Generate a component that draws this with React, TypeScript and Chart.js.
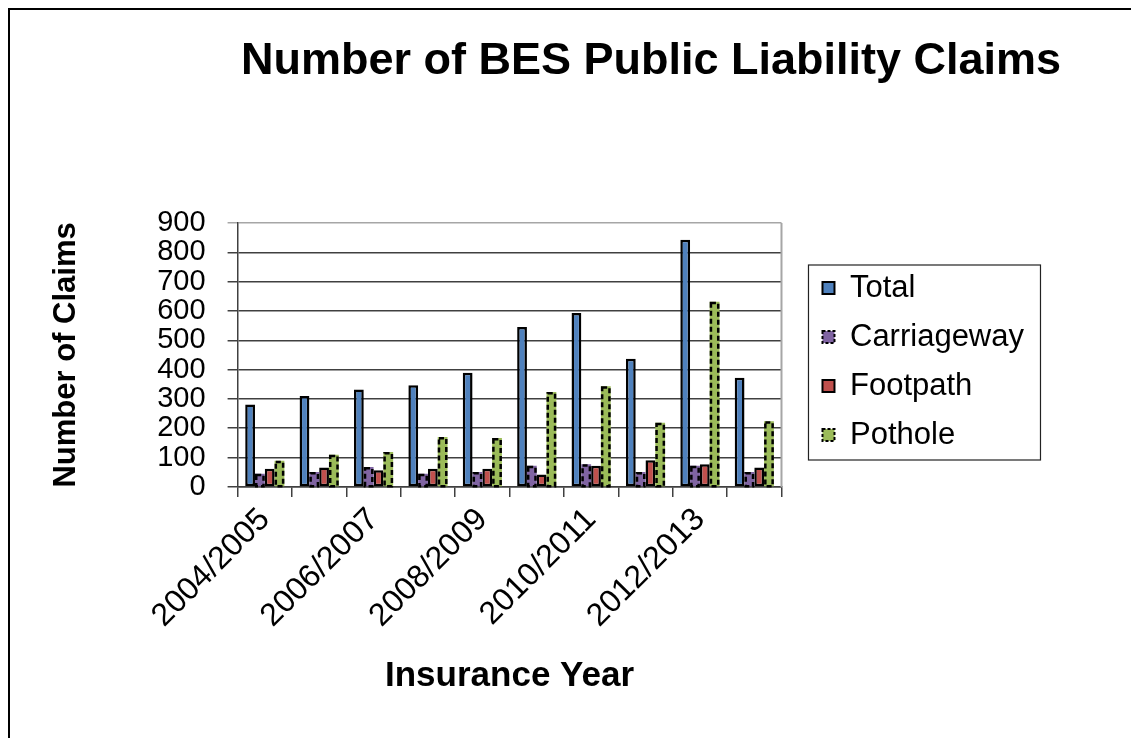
import React, { useEffect, useRef } from "react";
import { Chart, registerables } from "chart.js";

Chart.register(...registerables);

const categories = [
  "2004/2005", "2005/2006", "2006/2007", "2007/2008", "2008/2009",
  "2009/2010", "2010/2011", "2011/2012", "2012/2013", "2013/2014",
];
const totalClaims = [281, 310, 332, 347, 389, 545, 593, 437, 843, 372];
const carriagewayClaims = [45, 51, 68, 45, 51, 72, 77, 51, 72, 51];
const footpathClaims = [62, 66, 57, 62, 62, 42, 72, 91, 77, 66];
const potholeClaims = [89, 110, 119, 170, 167, 324, 343, 219, 631, 224];
const yTicks = [0, 100, 200, 300, 400, 500, 600, 700, 800, 900];

const FONT = "'Liberation Sans', Arial, Helvetica, sans-serif";
const LEGEND_FONT = 31;
const LEGEND_PAD = 18;

const layoutPlugin = {
  id: "layoutTweaks",
  afterLayout(chart: any) {
    const lg = chart.legend;
    const ca = chart.chartArea;
    if (lg) {
      const dx = ca.right + 41 - (lg.left + LEGEND_PAD);
      lg.left += dx;
      lg.right += dx;
      const n = chart.data.datasets.length;
      const colH = n * (LEGEND_FONT + LEGEND_PAD);
      const first = (lg.top + LEGEND_PAD + lg.bottom - colH) / 2 + LEGEND_FONT / 2;
      const dy = ca.top + 65 - first;
      lg.top += dy;
      lg.bottom += dy;
    }
    const tb = chart.titleBlock;
    if (tb) {
      const tdx = 641 - (tb.left + tb.right) / 2;
      tb.left += tdx;
      tb.right += tdx;
    }
  },
  beforeDatasetsDraw(chart: any) {
    const { ctx, chartArea: ca } = chart;
    ctx.save();
    ctx.strokeStyle = "#a6a6a6";
    ctx.lineWidth = 2;
    ctx.beginPath();
    ctx.moveTo(ca.right, ca.top);
    ctx.lineTo(ca.right, ca.bottom);
    ctx.stroke();
    ctx.restore();
  },
  afterDatasetsDraw(chart: any) {
    const { ctx } = chart;
    chart.data.datasets.forEach((ds: any, i: number) => {
      if (!ds.dashBorder) return;
      const meta = chart.getDatasetMeta(i);
      ctx.save();
      ctx.strokeStyle = "#000";
      ctx.lineWidth = 2.5;
      ctx.setLineDash(ds.dashBorder);
      meta.data.forEach((el: any) => {
        const { x, y, base, width } = el.getProps(["x", "y", "base", "width"], true);
        ctx.strokeRect(x - width / 2 + 1.25, y + 1.25, width - 2.5, base - y - 1.25);
      });
      ctx.restore();
    });
  },
  afterDraw(chart: any) {
    const lg = chart.legend;
    if (!lg) return;
    const { ctx } = chart;
    const n = chart.data.datasets.length;
    const colH = n * (LEGEND_FONT + LEGEND_PAD);
    const first = (lg.top + LEGEND_PAD + lg.bottom - colH) / 2 + LEGEND_FONT / 2;
    const markerX = lg.left + LEGEND_PAD;
    ctx.save();
    ctx.strokeStyle = "#222";
    ctx.lineWidth = 1.2;
    ctx.strokeRect(markerX - 14, first - 23, 232, 195);
    ctx.restore();
  },
};

export default function App() {
  const ref = useRef<HTMLCanvasElement>(null);
  useEffect(() => {
    if (!ref.current) return;
    Chart.defaults.font.family = FONT;
    Chart.defaults.color = "#000";
    const chart = new Chart(ref.current, {
      type: "bar",
      data: {
        labels: categories,
        datasets: [
          { label: "Total", data: totalClaims, backgroundColor: "#4F81BD", borderColor: "#000", borderWidth: 2.5, borderSkipped: false },
          { label: "Carriageway", data: carriagewayClaims, backgroundColor: "#8064A2", borderColor: "#000", borderWidth: 0, dashBorder: [5, 3] } as any,
          { label: "Footpath", data: footpathClaims, backgroundColor: "#C0504D", borderColor: "#000", borderWidth: 2.5, borderSkipped: false },
          { label: "Pothole", data: potholeClaims, backgroundColor: "#9BBB59", borderColor: "#000", borderWidth: 0, dashBorder: [5, 3] } as any,
        ],
      },
      options: {
        animation: false,
        responsive: false,
        events: [],
        layout: { padding: { left: 0, top: 0, bottom: 0, right: 120 } },
        datasets: { bar: { categoryPercentage: 0.72, barPercentage: 1.0 } },
        plugins: {
          title: {
            display: true,
            text: "Number of BES Public Liability Claims",
            font: { size: 45, weight: "bold" },
            color: "#000",
            padding: { top: 25, bottom: 134 },
          },
          legend: {
            display: true,
            position: "right",
            align: "center",
            labels: {
              font: { size: LEGEND_FONT },
              color: "#000",
              boxWidth: 12,
              boxHeight: 12,
              padding: LEGEND_PAD,
              generateLabels(chart: any) {
                const items = Chart.defaults.plugins.legend.labels.generateLabels(chart);
                return items.map((it: any) => {
                  const ds: any = chart.data.datasets[it.datasetIndex];
                  it.strokeStyle = "#000";
                  it.lineWidth = 2;
                  if (ds.dashBorder) it.lineDash = [3, 2];
                  return it;
                });
              },
            },
          },
          tooltip: { enabled: false },
        },
        scales: {
          x: {
            offset: true,
            grid: { display: true, drawOnChartArea: false, offset: true, drawTicks: true, tickLength: 10, color: "#404040", lineWidth: 1.5 },
            border: { display: true, color: "#404040", width: 1.5 },
            ticks: {
              autoSkip: false,
              minRotation: 45,
              maxRotation: 45,
              padding: 4,
              font: { size: 32 },
              color: "#000",
              callback: function (this: any, v: any, i: number) {
                return i % 2 === 0 ? categories[i] : "";
              },
            },
            title: { display: true, text: "Insurance Year", font: { size: 35, weight: "bold" }, color: "#000", padding: { top: 16, bottom: 41 } },
          },
          y: {
            min: yTicks[0],
            max: yTicks[yTicks.length - 1],
            afterBuildTicks: (scale: any) => {
              scale.ticks = yTicks.map((v) => ({ value: v }));
            },
            grid: {
              display: true,
              drawTicks: true,
              tickLength: 10,
              lineWidth: 1.5,
              color: (c: any) => (c.tick && c.tick.value === yTicks[yTicks.length - 1] ? "#a6a6a6" : "#404040"),
            },
            border: { display: true, color: "#404040", width: 1.5 },
            ticks: { autoSkip: false, padding: 22, font: { size: 29 }, color: "#000" },
            title: { display: true, text: "Number of Claims", font: { size: 31, weight: "bold" }, color: "#000", padding: { top: 38, bottom: 50 } },
          },
        },
      },
      plugins: [layoutPlugin],
    } as any);
    return () => chart.destroy();
  }, []);
  return (
    <>
      <style>{`html,body{overflow:hidden}`}</style>
      <div style={{ width: 1125, height: 730, border: "2px solid #000", borderBottom: "none", boxSizing: "border-box" }}>
        <canvas ref={ref} width={1121} height={728} style={{ display: "block" }} />
      </div>
    </>
  );
}
